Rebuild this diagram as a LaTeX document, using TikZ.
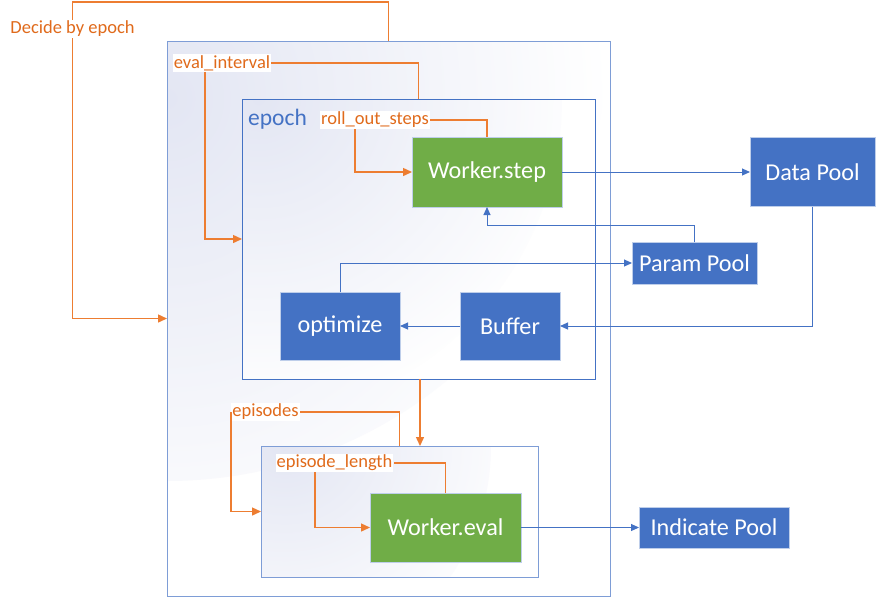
\documentclass[tikz,border=0pt]{standalone}
\usepackage{fontspec}
\setmainfont{Carlito}
\usetikzlibrary{positioning,arrows.meta}
\definecolor{boxblue}{HTML}{4472C4}
\definecolor{boxgreen}{HTML}{70AD47}
\definecolor{flow}{HTML}{ED7D31}
\definecolor{flowtext}{HTML}{E06A1B}
\definecolor{framecol}{HTML}{7E9DD6}
\definecolor{shadecol}{HTML}{E3E6F3}

\begin{document}
\begin{tikzpicture}[x=1pt, y=-1pt,
    frame/.style={draw=framecol, line width=1pt, fill=white, inner sep=0pt, outer sep=0pt,
        path picture={\shade[inner color=shadecol, outer color=white]
            (path picture bounding box.north west) circle (#1);}},
    box/.style={draw=boxblue!35!white, line width=1pt, text=white, inner sep=0pt, outer sep=0pt, font=\fontsize{24.2}{28}\selectfont},
    bluebox/.style={box, fill=boxblue},
    greenbox/.style={box, fill=boxgreen},
    lbl/.style={fill=white, text=flowtext, inner sep=1pt, font=\fontsize{18.5}{22}\selectfont},
    oline/.style={draw=flow, line width=1.4pt},
    oarrow/.style={oline, -{Triangle[length=9pt,width=8pt]}},
    barrow/.style={draw=boxblue, line width=1pt, -{Triangle[length=8pt,width=7pt]}}]
    \useasboundingbox (0,0) rectangle (877,598);

    \node [frame=440, minimum width=443pt, minimum height=555pt] (outer) at (388.5,318.5) {};
    \node [frame=320, draw=boxblue, minimum width=353pt, minimum height=280pt] (epoch) at (418.5,239) {};
    \node [frame=230, minimum width=277pt, minimum height=131pt] (evalf) at (399.5,511.5) {};
    \node [text=boxblue, font=\fontsize{23.5}{28}\selectfont, inner sep=0pt] (epochlbl) at (277.5,119) {epoch};

    \node [greenbox, minimum width=150pt, minimum height=70pt] (step) at (487,172) {Worker.step};
    \node [bluebox, minimum width=125pt, minimum height=69pt, right=188pt of step] (data) {Data Pool};
    \node [bluebox, minimum width=125pt, minimum height=42pt] (param) at (694.5,263) {Param Pool};
    \node [bluebox, minimum width=120pt, minimum height=68pt] (opt) at (340,326) {optimize};
    \node [bluebox, minimum width=100pt, minimum height=68pt, right=60pt of opt] (buffer) {Buffer};
    \node [greenbox, minimum width=151pt, minimum height=69pt] (evalw) at (445.5,527.5) {Worker.eval};
    \node [bluebox, minimum width=150pt, minimum height=41pt, right=118pt of evalw] (indicate) {Indicate Pool};

    \node [lbl] (decide) at (72.5,29) {Decide by epoch};
    \node [lbl] (evint) at (222,63) {eval\_interval};
    \node [lbl] (roll) at (375,120) {roll\_out\_steps};
    \node [lbl] (epi) at (265.5,412) {episodes};
    \node [lbl] (eplen) at (334.5,463) {episode\_length};

    \draw [oline] (outer.north) -- ++(0,-39) -| (decide.north);
    \draw [oarrow] (decide.south) |- (outer.west);
    \draw [oline] (epoch.north) |- (evint.east);
    \draw [oarrow] ([xshift=-17pt]evint.south) |- (epoch.west);
    \draw [oline] (step.north) |- (roll.east);
    \draw [oarrow] ([xshift=-20pt]roll.south) |- (step.west);
    \draw [oarrow] ([xshift=1.5pt]epoch.south) -- ([xshift=1.5pt]evalf.north -| epoch.south);
    \draw [oline] (evalf.north) |- (epi.east);
    \draw [oarrow] (epi.west) |- (evalf.west);
    \draw [oline] (evalw.north) |- (eplen.east);
    \draw [oarrow] ([xshift=-19.5pt]eplen.south) |- (evalw.west);

    \draw [barrow] (step) -- (data);
    \draw [barrow] (data.south) |- (buffer.east);
    \draw [barrow] (buffer) -- (opt);
    \draw [barrow] (opt.north) |- (param.west);
    \draw [barrow] (param.north) -- ++(0,-17) -| (step.south);
    \draw [barrow] (evalw) -- (indicate);
\end{tikzpicture}
\end{document}
